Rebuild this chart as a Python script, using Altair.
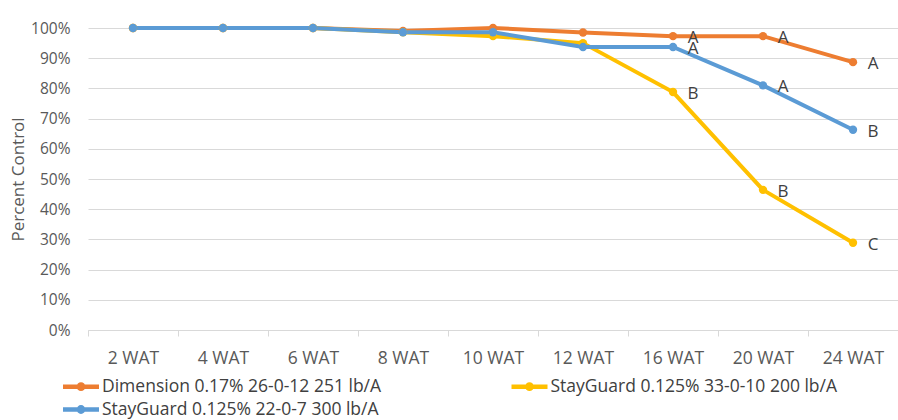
import altair as alt
import pandas as pd

categories = ["2 WAT", "4 WAT", "6 WAT", "8 WAT", "10 WAT", "12 WAT", "16 WAT", "20 WAT", "24 WAT"]
series_names = [
    "Dimension 0.17% 26-0-12 251 lb/A",
    "StayGuard 0.125% 33-0-10 200 lb/A",
    "StayGuard 0.125% 22-0-7 300 lb/A",
]
dimension = [100, 100, 100, 99, 100, 98.5, 97.3, 97.3, 88.7]
stayguard_33 = [100, 100, 100, 98.6, 97.3, 95.0, 78.8, 46.4, 28.9]
stayguard_22 = [100, 100, 100, 98.6, 98.6, 93.7, 93.7, 81.0, 66.3]
letters_dimension = ["", "", "", "", "", "", "A", "A", "A"]
letters_33 = ["", "", "", "", "", "", "B", "B", "C"]
letters_22 = ["", "", "", "", "", "", "A", "A", "B"]
colors = ["#ED7D31", "#FFC000", "#5B9BD5"]

rows = []
for order, (name, vals, lets) in enumerate(zip(series_names,
                                                [dimension, stayguard_33, stayguard_22],
                                                [letters_dimension, letters_33, letters_22])):
    for c, v, l in zip(categories, vals, lets):
        rows.append({"week": c, "series": name, "value": v / 100, "letter": l, "order": order})
df = pd.DataFrame(rows)

FONT = "Open Sans"
sym_path = "M-2,0L2,0M-0.24,0A0.24,0.24 0 1 1 0.24,0A0.24,0.24 0 1 1 -0.24,0Z"

x = alt.X("week:N", sort=categories, title=None,
          scale=alt.Scale(paddingInner=0, paddingOuter=0),
          axis=alt.Axis(labelAngle=0, tickBand="extent", grid=False, domainColor="#d9d9d9",
                        tickColor="#d9d9d9", tickSize=6, labelFontSize=17.5, labelColor="#595959",
                        labelPadding=13, labelFont=FONT))
y = alt.Y("value:Q", title="Percent Control",
          scale=alt.Scale(domain=[0, 1], nice=False),
          axis=alt.Axis(format=".0%", values=[i / 10 for i in range(11)], domain=False, ticks=False,
                        gridColor="#d9d9d9", labelFontSize=15.5, labelColor="#595959", labelPadding=18,
                        labelFont=FONT, titleFont=FONT, titleFontSize=17, titleFontWeight="normal",
                        titleColor="#595959", titlePadding=3))
color_scale = alt.Scale(domain=series_names, range=colors)
color = alt.Color("series:N", scale=color_scale,
                  legend=alt.Legend(title=None, orient="none", direction="horizontal",
                                    legendX=-26, legendY=347, columns=2,
                                    values=series_names,
                                    columnPadding=120.5, rowPadding=0, symbolType=sym_path,
                                    symbolSize=324, symbolStrokeWidth=4.5, symbolOffset=7.5,
                                    labelFontSize=17.5,
                                    labelColor="#404040", labelFont=FONT, labelOffset=9.5,
                                    labelLimit=500))

base = alt.Chart(df)
lines = base.mark_line(strokeWidth=4).encode(x=x, y=y, color=color, order="order:Q", detail="series:N")
points = base.mark_point(filled=True, size=70, opacity=1).encode(
    x=x, y=y, color=alt.Color("series:N", scale=color_scale, legend=None))
labels = base.transform_filter(alt.datum.letter != "").mark_text(
    dx=20, dy=2, align="center", baseline="middle", fontSize=17, color="#404040", font=FONT
).encode(x=x, y=y, text="letter:N")

chart = alt.layer(lines, points, labels).properties(
    width=810, height=302,
    autosize=alt.AutoSizeParams(type="none"),
    padding={"left": 88, "top": 28, "right": 0, "bottom": 90},
    background="white",
).configure_view(stroke=None)

chart.save("out.html", embed_options={"renderer": "svg", "actions": False})
